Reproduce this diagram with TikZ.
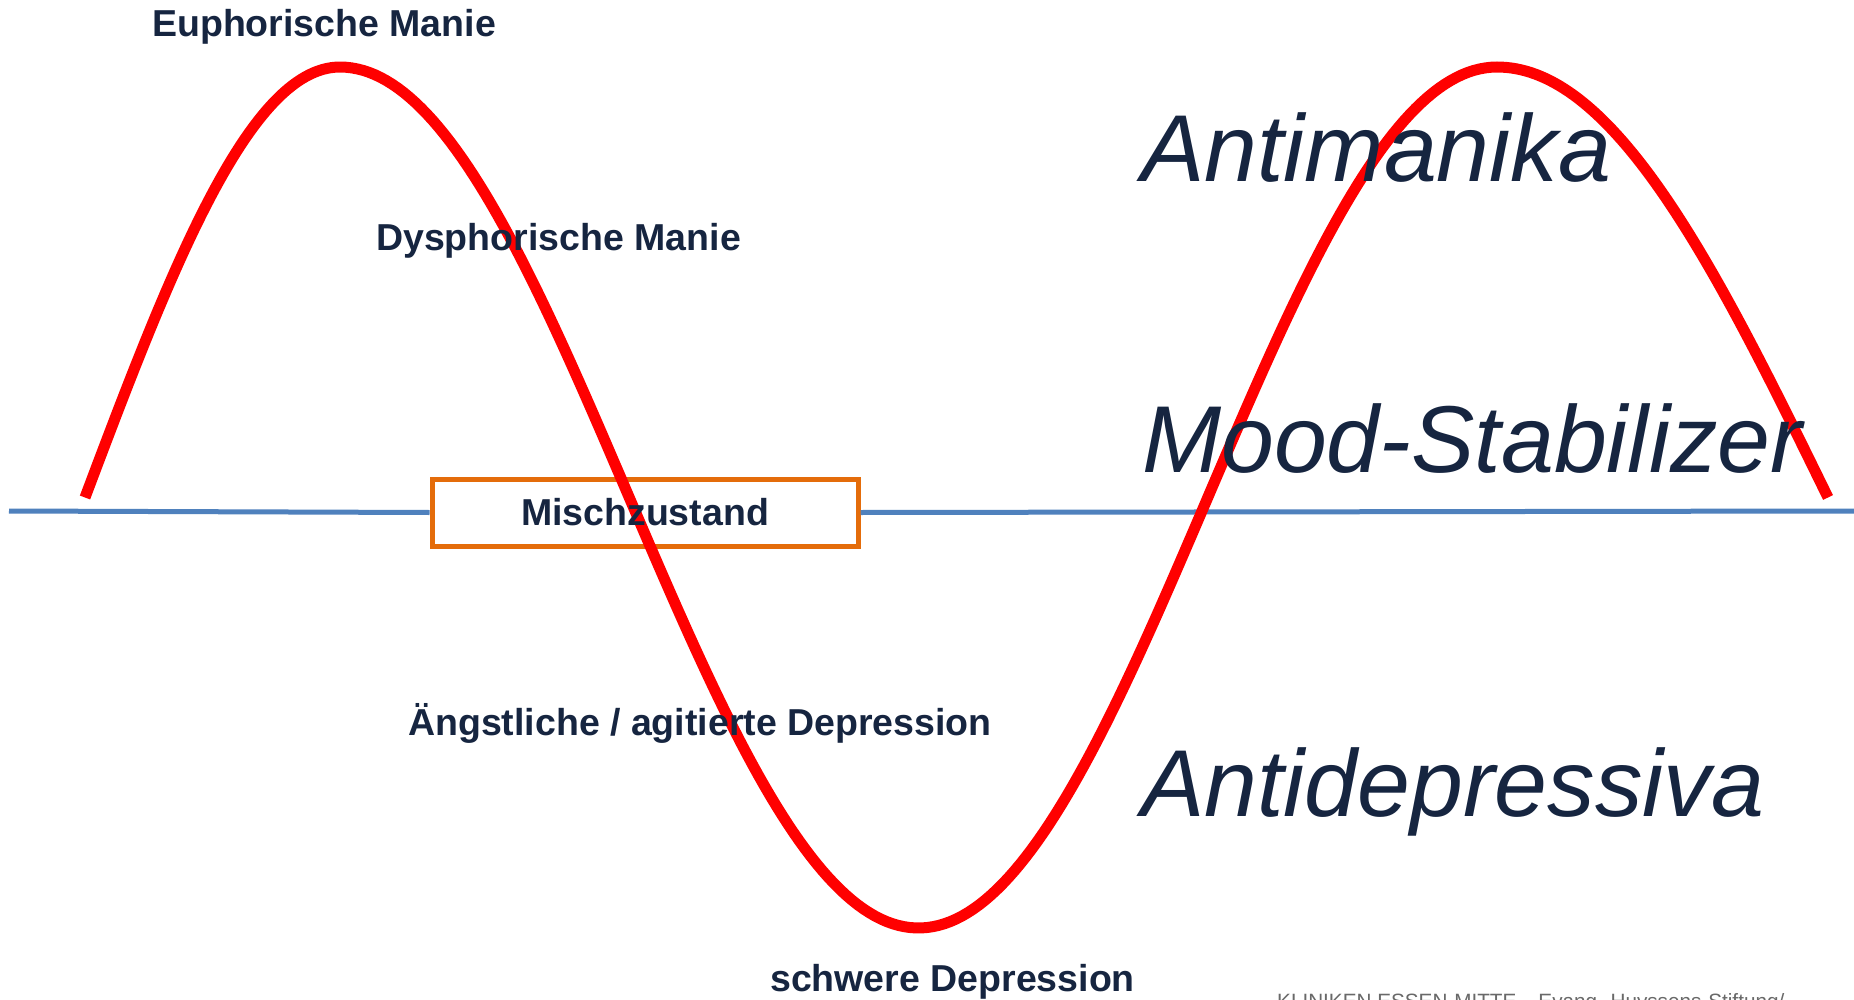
\documentclass[tikz,border=0pt]{standalone}
\usepackage{fontspec}
\setmainfont{Liberation Sans}
\definecolor{navy}{RGB}{22,37,64}
\definecolor{lineblue}{RGB}{79,129,189}
\definecolor{boxorange}{RGB}{228,108,10}
\definecolor{curvered}{RGB}{255,0,0}
\definecolor{footgray}{RGB}{105,105,105}
\tikzset{
  lbl/.style={anchor=base west, inner sep=0pt, text=navy, font=\fontsize{37.5}{40}\selectfont\bfseries},
  big/.style={anchor=base west, inner sep=0pt, text=navy, font=\fontsize{95}{100}\selectfont\itshape},
  axis/.style={draw=lineblue, line width=5pt},
  statebox/.style={draw=boxorange, line width=5pt, fill=white, minimum width=426pt, minimum height=67pt, inner sep=0pt, text=navy, font=\fontsize{37.5}{40}\selectfont\bfseries},
  wave/.style={draw=curvered, line width=11pt, line join=round}
}
\begin{document}
\begin{tikzpicture}[x=1pt,y=-1pt]
\useasboundingbox (0,0) rectangle (1854,1000);
\fill[white] (0,0) rectangle (1854,1000);
% axis and box
\coordinate (axL) at (9,511);
\coordinate (axR) at (1854,511);
\node[statebox] (box) at (645,512.5) {};
\draw[axis] (axL) -- (box.west);
\draw[axis] (box.east) -- (axR);
% red wave
\draw[wave]
  plot[domain=85:340, samples=60] (\x, {497.5-430.5*sin((\x-85)/255*90)})
  -- plot[domain=340:1497, samples=200] (\x, {497.5-430.5*cos((\x-340)/578.5*180)})
  -- plot[domain=1497:1828, samples=70] (\x, {497.5-430.5*cos((\x-1497)/331*90)});
% labels
\node[inner sep=0pt, text=navy, font=\fontsize{37.5}{40}\selectfont\bfseries] (mz) at (box.center) {Mischzustand};
\node[lbl] (eu) at (152,37) {Euphorische Manie};
\node[lbl] (dy) at (376,251) {Dysphorische Manie};
\node[lbl] (ag) at (408,735) {Ängstliche / agitierte Depression};
\node[lbl] (sd) at (770,991) {schwere Depression};
\node[big] (am) at (1141,182) {Antimanika};
\node[big] (ms) at (1142,472) {Mood-Stabilizer};
\node[big] (ad) at (1141,816) {Antidepressiva};
\node[anchor=base west, inner sep=0pt, text=footgray, font=\fontsize{20.7}{22}\selectfont] (ft) at (1277,1008) {KLINIKEN ESSEN-MITTE\hspace{22pt}Evang. Huyssens-Stiftung/};
\end{tikzpicture}
\end{document}
